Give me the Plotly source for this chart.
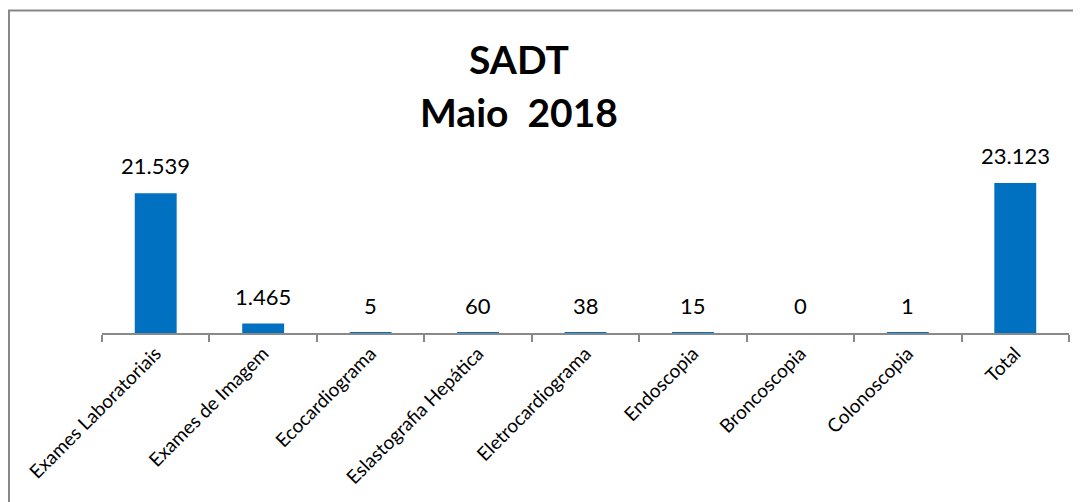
import plotly.graph_objects as go

categorias = ['Exames Laboratoriais', 'Exames de Imagem', 'Ecocardiograma',
              'Eslastografia Hepática', 'Eletrocardiograma', 'Endoscopia',
              'Broncoscopia', 'Colonoscopia', 'Total']
valores = [21539, 1465, 5, 60, 38, 15, 0, 1, 23123]

titulo = 'SADT'
subtitulo = 'Maio  2018'

fig = go.Figure()
fig.add_bar(x=categorias, y=valores, marker_color='#0070C0', marker_line_width=0)

# rotulos de dados acima das barras
for c, v in zip(categorias, valores):
    fig.add_annotation(x=c, y=v, text=f'{v:,}'.replace(',', '.'), showarrow=False,
                       yanchor='bottom', yshift=12,
                       font=dict(family='Lato', size=22, color='black'))

fig.add_annotation(xref='paper', yref='paper', x=0.4317, y=1.497, text='<b>' + titulo + '</b>',
                   showarrow=False, xanchor='center', yanchor='middle',
                   font=dict(family='Lato', size=39, color='black'))
fig.add_annotation(xref='paper', yref='paper', x=0.4317, y=1.208, text='<b>' + subtitulo + '</b>',
                   showarrow=False, xanchor='center', yanchor='middle',
                   font=dict(family='Lato', size=39, color='black'))

# moldura do grafico
fig.add_shape(type='rect', xref='paper', yref='paper', x0=-0.0962, x1=1.05, y0=-1.2, y1=1.762,
              line=dict(color='#878787', width=2))

# a pagina tem 8px de margem, por isso a figura e um pouco menor
fig.update_layout(
    width=1073, height=494,
    margin=dict(l=94, r=12, t=142, b=169),
    plot_bgcolor='white', paper_bgcolor='white',
    bargap=0.61, showlegend=False,
    font=dict(family='Lato', color='black'),
)
fig.update_xaxes(showline=True, linecolor='#898989', linewidth=2, ticks='outside',
                 tickson='boundaries', ticklen=7, tickcolor='#898989', tickwidth=2,
                 tickangle=-45, tickfont=dict(family='Lato', size=19, color='black'),
                 showgrid=False)
fig.update_yaxes(visible=False, range=[0, 28210])

fig.write_html('out.html')
